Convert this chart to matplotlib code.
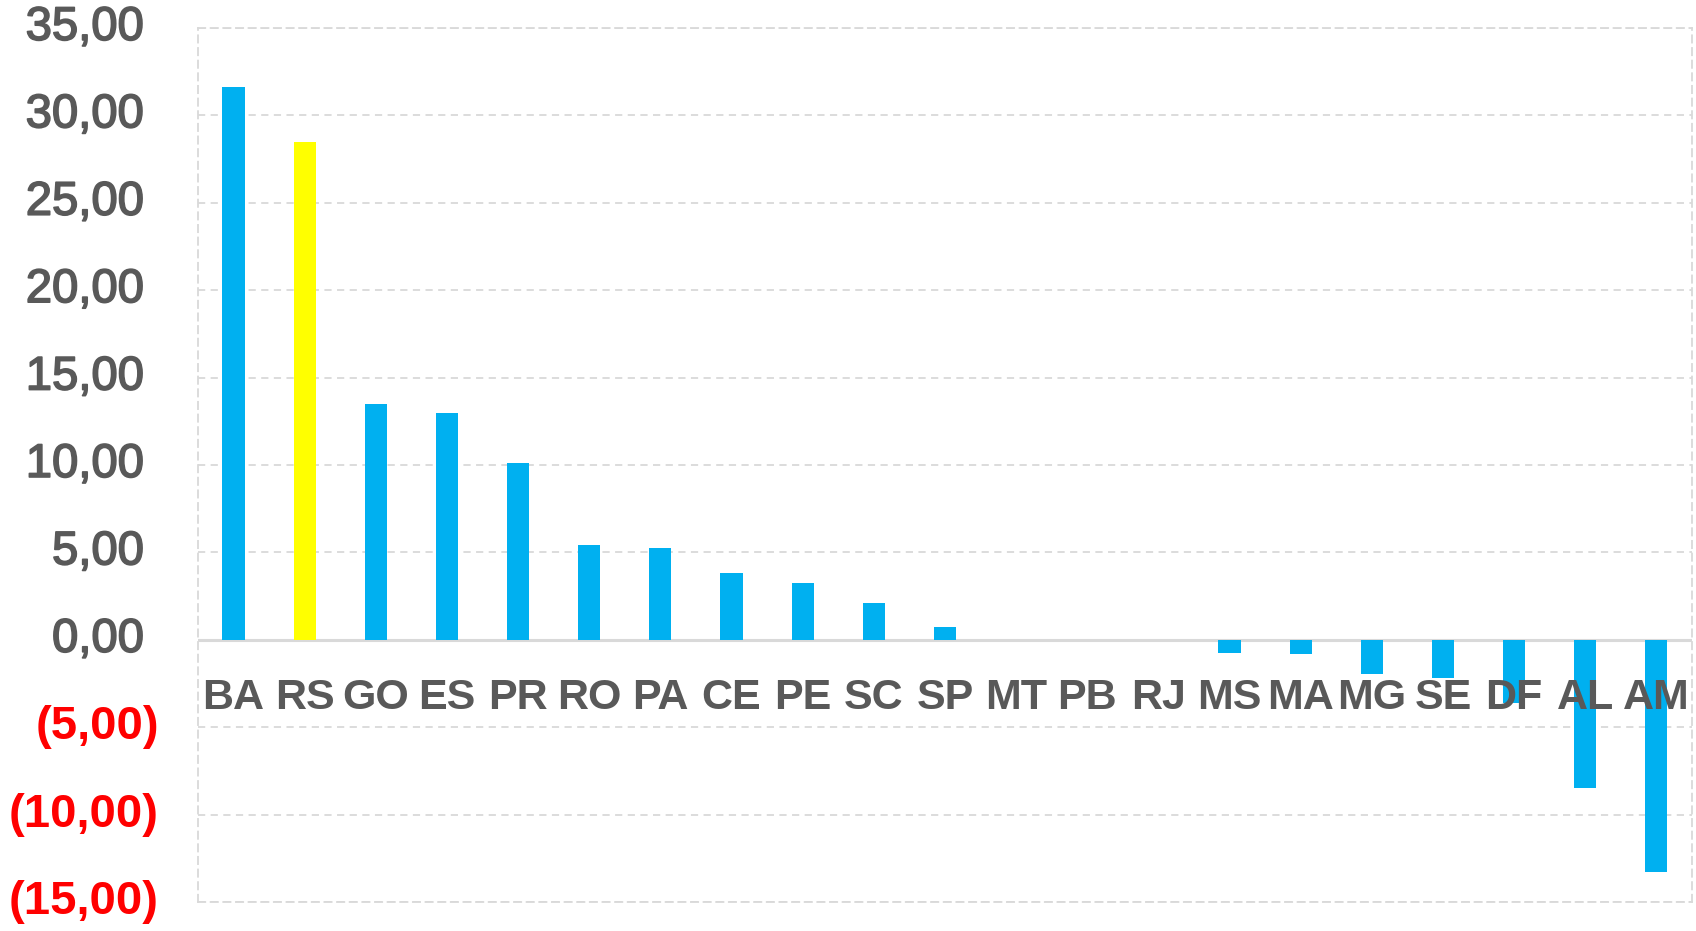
import numpy as np
import matplotlib
matplotlib.use("Agg")
from matplotlib import pyplot as plt
from matplotlib import transforms as mtrans
from matplotlib import patheffects as pe

# data
states = ["BA", "RS", "GO", "ES", "PR", "RO", "PA", "CE", "PE", "SC", "SP",
          "MT", "PB", "RJ", "MS", "MA", "MG", "SE", "DF", "AL", "AM"]
values = [31.6, 28.5, 13.5, 13.0, 10.1, 5.4, 5.25, 3.8, 3.25, 2.1, 0.73,
          0.0, 0.0, 0.0, -0.75, -0.8, -1.95, -2.2, -3.6, -8.5, -13.3]
highlight = "RS"
yticks = [35, 30, 25, 20, 15, 10, 5, 0, -5, -10, -15]

BLUE = "#00B0F0"
YELLOW = "#FFFF00"
GREY = "#595959"
GRID = "#d9d9d9"


def fmt_br(v):
    s = "{:.2f}".format(abs(v)).replace(".", ",")
    return "({})".format(s) if v < 0 else s


fig = plt.figure(figsize=(16.96, 9.31), dpi=100)
ax = fig.add_axes([0.1167, 0.0311, 0.8809, 0.9389])

x = np.arange(len(states))
colors = [YELLOW if s == highlight else BLUE for s in states]
ax.bar(x, values, width=0.31, color=colors, zorder=2)

ax.set_xlim(-0.5, len(states) - 0.5)
ax.set_ylim(-15, 35)
ax.set_yticks(yticks)
ax.yaxis.grid(True, linestyle=(0, (4, 3)), color=GRID, linewidth=1.3, zorder=0)
ax.axhline(0, color=GRID, linewidth=2.2, zorder=1)
ax.set_xticks([])
ax.tick_params(axis="y", length=0, labelleft=False)
for side in ["left", "right", "top", "bottom"]:
    ax.spines[side].set_linestyle((0, (4, 3)))
    ax.spines[side].set_color(GRID)
    ax.spines[side].set_linewidth(1.3)

# y labels, Excel style: negatives red in parentheses
trans = mtrans.blended_transform_factory(ax.transAxes, ax.transData)
for v in yticks:
    neg = v < 0
    col = "#FF0000" if neg else GREY
    t = ax.text(-0.0261 if neg else -0.0359, v, fmt_br(v), transform=trans,
                ha="right", va="center", fontsize=34, color=col,
                fontweight="bold" if neg else "normal",
                fontfamily="Liberation Sans", clip_on=False)
    if not neg:
        t.set_path_effects([pe.withStroke(linewidth=1.2, foreground=col)])

# category labels sit just under the zero line, above the bars
for xi, s in zip(x, states):
    ax.text(xi, -3.3, s, ha="center", va="center", fontsize=31,
            fontweight="bold", color=GREY,
            fontfamily="Liberation Sans", zorder=3)

fig.savefig("out.png", dpi=100, facecolor="white")
